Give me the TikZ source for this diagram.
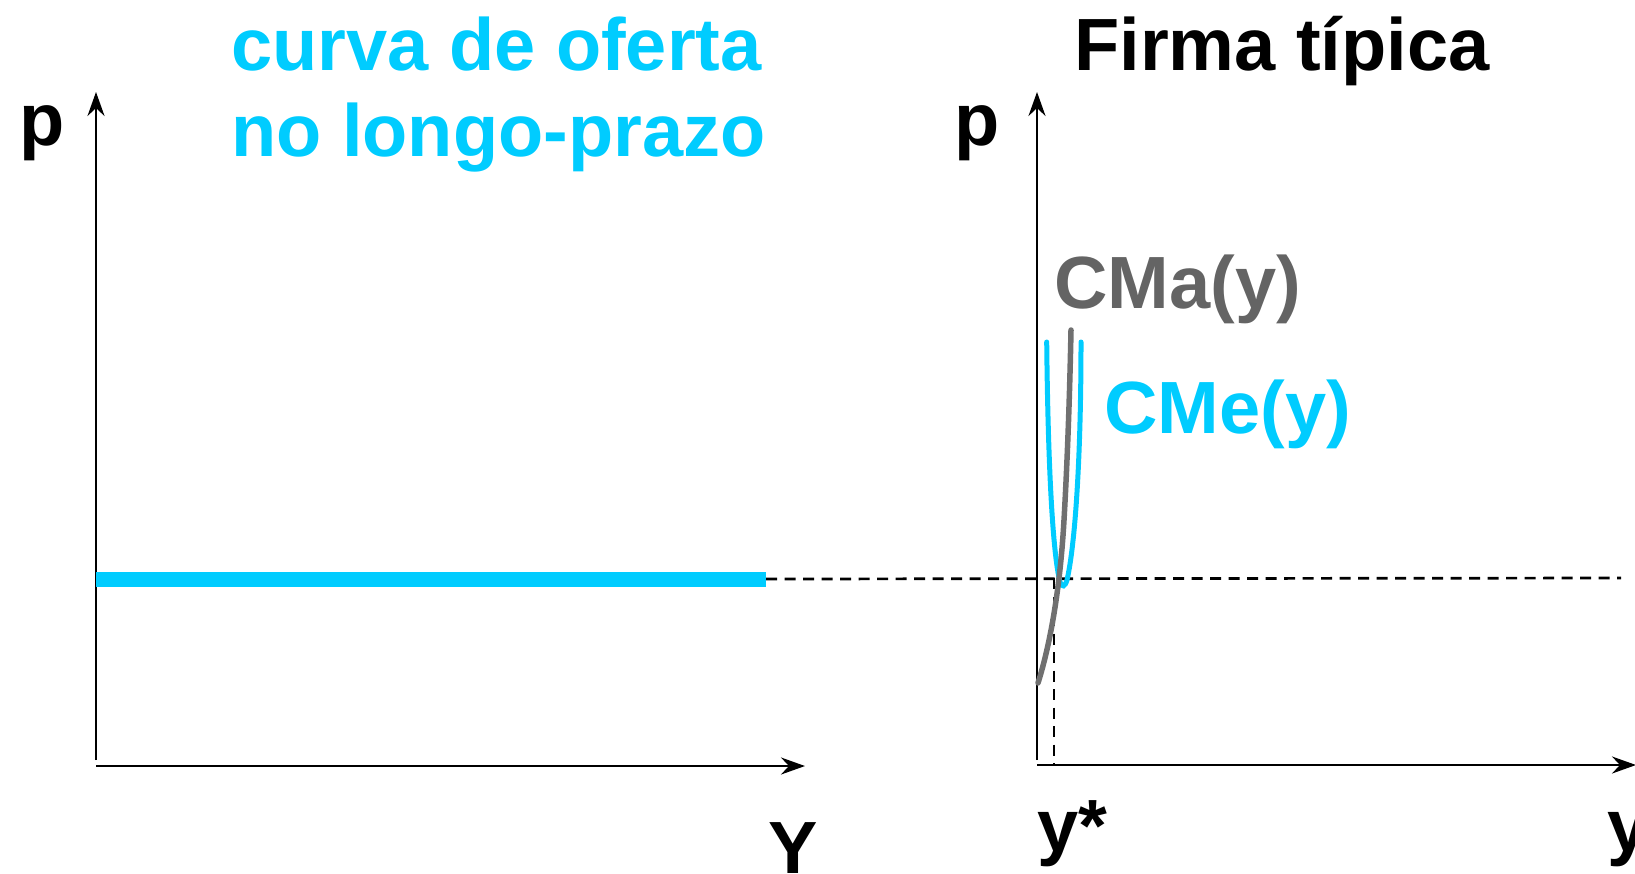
\documentclass[tikz,border=0pt]{standalone}
\usepackage{fontspec}
\setmainfont{Liberation Sans}
\usetikzlibrary{arrows.meta}
\definecolor{cyanc}{RGB}{0,204,255}
\definecolor{grayt}{RGB}{100,100,100}
\definecolor{grayl}{RGB}{112,112,112}
\tikzset{
  lbl/.style={inner sep=0pt, anchor=base west, font=\fontsize{74}{89}\selectfont\bfseries},
  axis/.style={line width=2.7pt, -{Stealth[length=24pt,width=17pt,inset=8pt]}},
  guide/.style={line width=2.7pt, dash pattern=on 11pt off 7.5pt},
  supply/.style={line width=15pt, cyanc},
  cme/.style={line width=5pt, cyanc, line cap=round},
  cma/.style={line width=5.5pt, grayl, line cap=round}
}
\begin{document}
\begin{tikzpicture}[x=1pt,y=-1pt]
\useasboundingbox (0,0) rectangle (1635,873);
% coordinates
\coordinate (o1v) at (96,760);
\coordinate (o1) at (96,766);
\coordinate (p1top) at (96,92);
\coordinate (y1end) at (805,766);
\coordinate (o2v) at (1037,760);
\coordinate (o2) at (1037,765);
\coordinate (p2top) at (1037,92);
\coordinate (y2end) at (1636,765);
\coordinate (s0) at (96,579);
\coordinate (s1) at (766,579);
\coordinate (d1) at (1621,578);
\coordinate (eq) at (1054,578);
\coordinate (eqx) at (1054,765);
% axes
\draw[axis] (o1v) -- (p1top);
\draw[axis] (o1) -- (y1end);
\draw[axis] (o2v) -- (p2top);
\draw[axis] (o2) -- (y2end);
% guides
\draw[guide] (s1) -- (d1);
\draw[guide] (eq) -- (eqx);
% supply curve
\draw[supply] (s0) -- (s1);
% average cost
\draw[cme] (1046.7,342) .. controls (1048,470) and (1053,555) .. (1060,582)
  .. controls (1062,588) and (1065,587) .. (1067,580)
  .. controls (1075,545) and (1081,460) .. (1081,342);
% marginal cost
\draw[cma] (1038,683) .. controls (1050,645) and (1060,590) .. (1064,520)
  .. controls (1068,450) and (1070,380) .. (1071,330);
% labels
\node[lbl, cyanc] (t1) at (231,70) {curva de oferta};
\node[lbl, cyanc] (t2) at (231,156) {no longo-prazo};
\node[lbl] (t3) at (1074,70) {Firma típica};
\node[lbl] (pl) at (19,145) {p};
\node[lbl] (pr) at (954,145) {p};
\node[lbl, grayt] (cma) at (1054,308) {CMa(y)};
\node[lbl, cyanc] (cme) at (1104,433) {CMe(y)};
\node[lbl] (Yl) at (768,873) {Y};
\node[lbl] (ys) at (1037,851) {y*};
\node[lbl] (yr) at (1607,851) {y};
\end{tikzpicture}
\end{document}
